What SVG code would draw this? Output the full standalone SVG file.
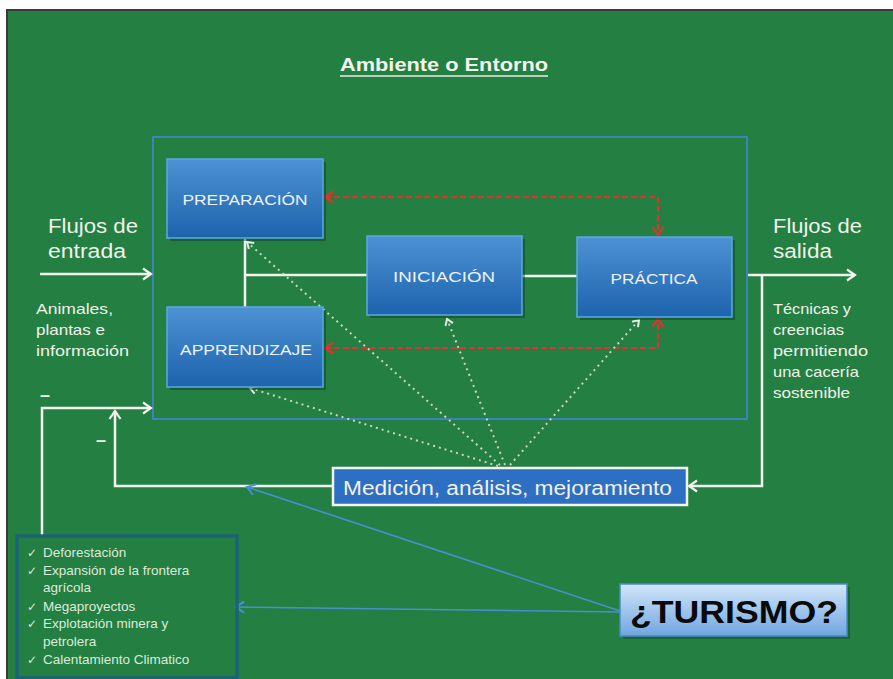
<svg xmlns="http://www.w3.org/2000/svg" width="893" height="679" viewBox="0 0 893 679">
<defs>
<linearGradient id="boxg" x1="0" y1="0" x2="0" y2="1">
<stop offset="0" stop-color="#4d92d4"/>
<stop offset="1" stop-color="#1d63ad"/>
</linearGradient>
<linearGradient id="turg" x1="0" y1="0" x2="0" y2="1">
<stop offset="0" stop-color="#d2e6fa"/>
<stop offset="1" stop-color="#6fa6df"/>
</linearGradient>
<marker id="aw" markerUnits="userSpaceOnUse" markerWidth="14" markerHeight="14" refX="11" refY="7" orient="auto-start-reverse">
<path d="M3,1.5 L11,7 L3,12.5" fill="none" stroke="#f4f4ee" stroke-width="2.2"/>
</marker>
<marker id="ar" markerUnits="userSpaceOnUse" markerWidth="14" markerHeight="14" refX="11" refY="7" orient="auto-start-reverse">
<path d="M3,1.5 L11,7 L3,12.5" fill="none" stroke="#e8302a" stroke-width="2.2"/>
</marker>
<marker id="ab" markerUnits="userSpaceOnUse" markerWidth="14" markerHeight="14" refX="11" refY="7" orient="auto-start-reverse">
<path d="M3,1.5 L11,7 L3,12.5" fill="none" stroke="#4a8ed6" stroke-width="2"/>
</marker>
<marker id="ad" markerUnits="userSpaceOnUse" markerWidth="12" markerHeight="12" refX="9" refY="6" orient="auto-start-reverse">
<path d="M3,2 L9,6 L3,10" fill="none" stroke="#e4ece0" stroke-width="2"/>
</marker>
</defs>
<style>
.t{font-family:"Liberation Sans",Arial,sans-serif;fill:#f2f2ea}
.bx{fill:url(#boxg);stroke:#5aaae2;stroke-width:1.5}
.sh{fill:#0d3a1c;opacity:0.45}
.bt{font-family:"Liberation Sans",Arial,sans-serif;fill:#eef2f8;font-size:15px}
.w{fill:none;stroke:#f4f4ee;stroke-width:2.5}
.r{fill:none;stroke:#e8302a;stroke-width:2;stroke-dasharray:6 3}
.d{fill:none;stroke:#c9d6c4;stroke-width:2;stroke-dasharray:2 4}
.b{fill:none;stroke:#4a8ed6;stroke-width:1.6}
.li{font-family:"Liberation Sans",Arial,sans-serif;fill:#dfeadb;font-size:13.5px}
.ck{font-family:"DejaVu Sans",sans-serif;fill:#dfeadb;font-size:12px}
</style>
<rect x="0" y="0" width="893" height="679" fill="#ffffff"/>
<rect x="7" y="10" width="890" height="675" fill="#237f42" stroke="#3a3a3a" stroke-width="2"/>
<text class="t" x="444" y="71" text-anchor="middle" font-size="19" font-weight="bold" textLength="208" lengthAdjust="spacingAndGlyphs">Ambiente o Entorno</text>
<line x1="340" y1="76" x2="548" y2="76" stroke="#e6eee2" stroke-width="1.5"/>
<rect id="entorno" x="153" y="137" width="594" height="282" fill="none" stroke="#3f86c6" stroke-width="1.8"/>
<g id="connectors">
<path class="w" d="M40,274 H151" marker-end="url(#aw)"/>
<path class="w" d="M748,275 H855" marker-end="url(#aw)"/>
<path class="w" d="M762,275 V486 H689" marker-end="url(#aw)"/>
<path class="w" d="M333,486 H115 V411" marker-end="url(#aw)"/>
<path class="w" d="M42,536 V408 H151" marker-end="url(#aw)"/>
<path class="w" d="M245,307 V239"/>
<path class="w" d="M245,275 H367"/>
<path class="w" d="M522,276 H577"/>
<path class="r" d="M325,197 H658 V235" marker-start="url(#ar)" marker-end="url(#ar)"/>
<path class="r" d="M325,348 H658 V319" marker-start="url(#ar)" marker-end="url(#ar)"/>
<path class="d" d="M500,465 L247,242" marker-end="url(#ad)"/>
<path class="d" d="M498,466 L250,388" marker-end="url(#ad)"/>
<path class="d" d="M505,465 L447,319" marker-end="url(#ad)"/>
<path class="d" d="M510,465 L639,320" marker-end="url(#ad)"/>
<path class="b" d="M620,611 L247,487" marker-end="url(#ab)"/>
<path class="b" d="M620,612 L236,607" marker-end="url(#ab)"/>
</g>
<g id="preparacion">
<rect class="sh" x="170" y="162" width="156" height="79"/>
<rect class="bx" x="167" y="159" width="156" height="79"/>
<text class="bt" x="245" y="205" text-anchor="middle" textLength="125" lengthAdjust="spacingAndGlyphs">PREPARACIÓN</text>
</g>
<g id="apprendizaje">
<rect class="sh" x="170" y="310" width="156" height="80"/>
<rect class="bx" x="167" y="307" width="156" height="80"/>
<text class="bt" x="246" y="355" text-anchor="middle" textLength="132" lengthAdjust="spacingAndGlyphs">APPRENDIZAJE</text>
</g>
<g id="iniciacion">
<rect class="sh" x="370" y="239" width="155" height="79"/>
<rect class="bx" x="367" y="236" width="155" height="79"/>
<text class="bt" x="444" y="282" text-anchor="middle" textLength="102" lengthAdjust="spacingAndGlyphs">INICIACIÓN</text>
</g>
<g id="practica">
<rect class="sh" x="580" y="240" width="155" height="80"/>
<rect class="bx" x="577" y="237" width="155" height="80"/>
<text class="bt" x="654" y="284" text-anchor="middle" textLength="87" lengthAdjust="spacingAndGlyphs">PRÁCTICA</text>
</g>
<g id="medicion">
<rect x="333" y="468" width="354" height="37" fill="#2d6fc2" stroke="#f4f4ee" stroke-width="2.5"/>
<text class="t" x="343" y="495" font-size="20" textLength="329" lengthAdjust="spacingAndGlyphs">Medición, análisis, mejoramiento</text>
</g>
<g id="turismo">
<rect x="623" y="587" width="227" height="52" fill="#0d3a1c" opacity="0.35"/>
<rect x="620" y="584" width="227" height="52" fill="url(#turg)" stroke="#4a8ad0" stroke-width="1.5"/>
<text x="630" y="623" font-family="Liberation Sans,Arial,sans-serif" font-weight="bold" font-size="31" fill="#0a0a0a" textLength="208" lengthAdjust="spacingAndGlyphs">¿TURISMO?</text>
</g>
<g id="entrada">
<text class="t" x="48" y="233" font-size="20" textLength="90" lengthAdjust="spacingAndGlyphs">Flujos de</text>
<text class="t" x="48" y="258" font-size="20" textLength="78" lengthAdjust="spacingAndGlyphs">entrada</text>
<text class="t" x="36" y="314" font-size="15" textLength="77" lengthAdjust="spacingAndGlyphs">Animales,</text>
<text class="t" x="36" y="335" font-size="15" textLength="69" lengthAdjust="spacingAndGlyphs">plantas e</text>
<text class="t" x="36" y="356" font-size="15" textLength="93" lengthAdjust="spacingAndGlyphs">información</text>
</g>
<g id="salida">
<text class="t" x="773" y="233" font-size="20" textLength="89" lengthAdjust="spacingAndGlyphs">Flujos de</text>
<text class="t" x="773" y="258" font-size="20" textLength="59" lengthAdjust="spacingAndGlyphs">salida</text>
<text class="t" x="773" y="314" font-size="14.5" textLength="78" lengthAdjust="spacingAndGlyphs">Técnicas y</text>
<text class="t" x="773" y="335" font-size="14.5" textLength="71" lengthAdjust="spacingAndGlyphs">creencias</text>
<text class="t" x="773" y="356" font-size="14.5" textLength="95" lengthAdjust="spacingAndGlyphs">permitiendo</text>
<text class="t" x="773" y="377" font-size="14.5" textLength="86" lengthAdjust="spacingAndGlyphs">una cacería</text>
<text class="t" x="773" y="398" font-size="14.5" textLength="77" lengthAdjust="spacingAndGlyphs">sostenible</text>
</g>
<g id="signos">
<text class="t" x="40" y="401" font-size="18" font-weight="bold">–</text>
<text class="t" x="96" y="446" font-size="18" font-weight="bold">–</text>
</g>
<g id="amenazas">
<rect x="17" y="536" width="220" height="142" fill="none" stroke="#1b6478" stroke-width="3.5"/>
<text class="ck" x="27" y="557">✓</text><text class="li" x="43" y="557">Deforestación</text>
<text class="ck" x="27" y="575">✓</text><text class="li" x="43" y="575">Expansión de la frontera</text>
<text class="li" x="43" y="592">agrícola</text>
<text class="ck" x="27" y="611">✓</text><text class="li" x="43" y="611">Megaproyectos</text>
<text class="ck" x="27" y="628">✓</text><text class="li" x="43" y="628">Explotación minera y</text>
<text class="li" x="43" y="646">petrolera</text>
<text class="ck" x="27" y="664">✓</text><text class="li" x="43" y="664">Calentamiento Climatico</text>
</g>
</svg>
